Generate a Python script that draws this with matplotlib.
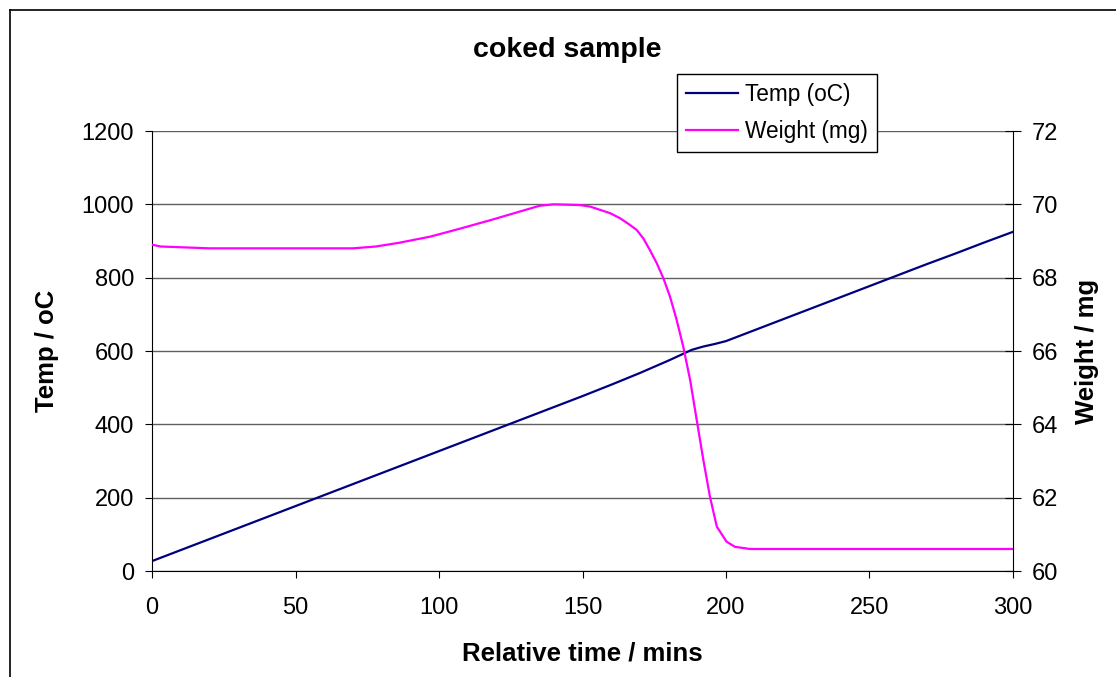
import matplotlib.pyplot as plt
from matplotlib.lines import Line2D

plt.rcParams['font.family'] = ['Liberation Sans', 'DejaVu Sans']

# values
time_temp = [0, 10, 20, 30, 40, 50, 60, 70, 80, 90, 100, 110, 120, 130, 140,
             150, 160, 170, 180, 185, 188, 192, 196, 200, 210, 220, 230, 240,
             250, 260, 270, 280, 290, 300]
temp = [27, 57, 87, 117, 147, 177, 207, 237, 267, 297, 327, 357, 387, 417, 447,
        477, 508, 540, 574, 592, 603, 612, 619, 627, 657, 687, 717, 747,
        777, 807, 837, 866, 896, 925]

time_weight = [0, 3, 20, 70, 78, 86, 97, 107, 118, 128, 135, 140, 149, 152.6,
               156.1, 159.6, 163.1, 166.5, 168.9, 171.2, 173.5, 175.9, 178.2,
               180.5, 182.8, 185.1, 187.5, 189.8, 192.1, 194.4, 196.8, 200.2,
               203.1, 208.4, 300]
weight = [68.90, 68.85, 68.80, 68.80, 68.85, 68.95, 69.12, 69.33, 69.57, 69.80,
          69.96, 70.0, 69.98, 69.94, 69.85, 69.76, 69.62, 69.44, 69.30, 69.07,
          68.75, 68.39, 67.98, 67.48, 66.85, 66.12, 65.21, 64.12, 63.03, 62.03,
          61.21, 60.80, 60.66, 60.60, 60.60]

temp_ticks = [0, 200, 400, 600, 800, 1000, 1200]
weight_ticks = [60, 62, 64, 66, 68, 70, 72]
time_ticks = [0, 50, 100, 150, 200, 250, 300]

fig = plt.figure(figsize=(11.16, 6.77), dpi=100)
ax = fig.add_axes([152 / 1116, 1 - 571 / 677, (1013 - 152) / 1116, (571 - 131) / 677])
ax2 = ax.twinx()

ax.set_xlim(0, 300)
ax.set_ylim(0, 1200)
ax2.set_ylim(60, 72)
ax.set_xticks(time_ticks)
ax.set_yticks(temp_ticks)
ax2.set_yticks(weight_ticks)

ax.yaxis.grid(True, color='#606060', lw=1)
ax.set_axisbelow(True)

l1, = ax.plot(time_temp, temp, color='#000080', lw=1.6, label='Temp (oC)')
l2, = ax2.plot(time_weight, weight, color='#FF00FF', lw=1.6, label='Weight (mg)')

for a in (ax, ax2):
    a.spines['top'].set_visible(False)
ax2.spines['left'].set_visible(False)
ax2.spines['bottom'].set_visible(False)
ax.spines['right'].set_visible(False)

ax.tick_params(axis='y', direction='out', length=5, pad=8, labelsize=17)
ax.tick_params(axis='x', direction='out', length=5, pad=14, labelsize=17)
ax2.tick_params(axis='y', direction='inout', length=11, pad=8, labelsize=17)

ax.set_ylabel('Temp / oC', fontsize=18.5, fontweight='bold', labelpad=16)
ax2.set_ylabel('Weight / mg', fontsize=18.5, fontweight='bold', rotation=90, labelpad=12)
ax.set_xlabel('Relative time / mins', fontsize=18.5, fontweight='bold', labelpad=16)

fig.text(567 / 1116, 1 - 50 / 677, 'coked sample', fontsize=20.5, fontweight='bold',
         ha='center', va='center')

leg = fig.legend(handles=[l1, l2], loc='upper left',
                 bbox_to_anchor=(677 / 1116, 1 - 74 / 677), bbox_transform=fig.transFigure,
                 fontsize=16.3, frameon=True, fancybox=False, framealpha=1,
                 edgecolor='black', handlelength=2.3, borderpad=0.4,
                 labelspacing=0.6, handletextpad=0.3, borderaxespad=0)
leg.get_frame().set_linewidth(1)

# outer chart frame (cropped on right and bottom)
fig.add_artist(Line2D([10 / 1116, 10 / 1116], [0, 1 - 10 / 677], color='black', lw=1.2,
                      transform=fig.transFigure))
fig.add_artist(Line2D([10 / 1116, 1], [1 - 10 / 677, 1 - 10 / 677], color='black', lw=1.2,
                      transform=fig.transFigure))

fig.savefig('out.png', dpi=100)
